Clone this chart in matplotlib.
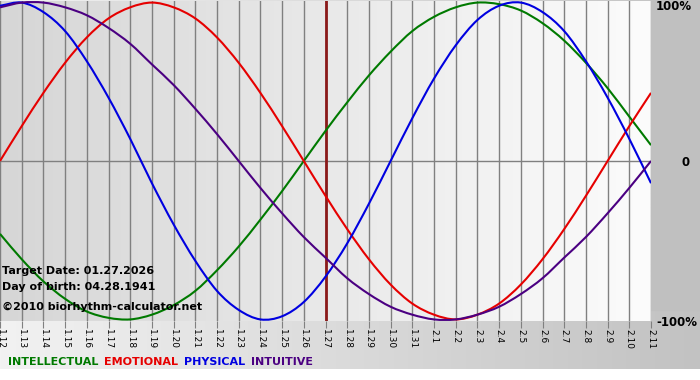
import numpy as np
import matplotlib.pyplot as plt
from matplotlib.colors import LinearSegmentedColormap
from matplotlib.path import Path
from matplotlib.patches import PathPatch

# day labels (Jan 12 .. Feb 11)
days = ['1.12', '1.13', '1.14', '1.15', '1.16', '1.17', '1.18', '1.19', '1.20', '1.21',
        '1.22', '1.23', '1.24', '1.25', '1.26', '1.27', '1.28', '1.29', '1.30', '1.31',
        '2.1', '2.2', '2.3', '2.4', '2.5', '2.6', '2.7', '2.8', '2.9', '2.10', '2.11']
target_day = '1.27'

# daily values (-1 .. 1)
physical = [0.98, 1.00, 0.94, 0.82, 0.63, 0.40, 0.14, -0.14, -0.40, -0.63, -0.82,
            -0.94, -1.00, -0.98, -0.89, -0.73, -0.52, -0.27, 0.00, 0.27, 0.52,
            0.73, 0.89, 0.98, 1.00, 0.94, 0.82, 0.63, 0.40, 0.14, -0.14]
emotional = [0.00, 0.22, 0.43, 0.62, 0.78, 0.90, 0.97, 1.00, 0.97, 0.90, 0.78,
             0.62, 0.43, 0.22, 0.00, -0.22, -0.43, -0.62, -0.78, -0.90, -0.97,
             -1.00, -0.97, -0.90, -0.78, -0.62, -0.43, -0.22, 0.00, 0.22, 0.43]
intellectual = [-0.46, -0.62, -0.76, -0.87, -0.95, -0.99, -1.00, -0.97, -0.91, -0.82, -0.69,
                -0.54, -0.37, -0.19, 0.00, 0.19, 0.37, 0.54, 0.69, 0.82, 0.91,
                0.97, 1.00, 0.99, 0.95, 0.87, 0.76, 0.62, 0.46, 0.28, 0.10]
intuitive = [0.97, 1.00, 1.00, 0.97, 0.92, 0.84, 0.74, 0.61, 0.48, 0.33, 0.17,
             0.00, -0.17, -0.33, -0.48, -0.61, -0.74, -0.84, -0.92, -0.97, -1.00,
             -1.00, -0.97, -0.92, -0.84, -0.74, -0.61, -0.48, -0.33, -0.17, 0.00]

legend_names = ['INTELLECTUAL', 'EMOTIONAL', 'PHYSICAL', 'INTUITIVE']
colors = ['#007a00', '#e60000', '#0000e0', '#4b0082']


def smooth_path(xs, ys):
    # draw the daily points as a smoothed (bezier) line, like the original chart
    p = np.column_stack([xs, ys]).astype(float)
    ext = np.vstack([2 * p[0] - p[1], p, 2 * p[-1] - p[-2]])
    verts = [p[0]]
    codes = [Path.MOVETO]
    for i in range(1, len(ext) - 2):
        c1 = ext[i] + (ext[i + 1] - ext[i - 1]) / 6
        c2 = ext[i + 1] - (ext[i + 2] - ext[i]) / 6
        verts += [c1, c2, ext[i + 1]]
        codes += [Path.CURVE4] * 3
    return Path(verts, codes)


W, H = 700, 380
fig = plt.figure(figsize=(W / 100, H / 100), dpi=100)
fig.patch.set_facecolor('white')

# background panel (gray gradient) behind everything
bg = fig.add_axes([0, 11 / H, 1, 1 - 11 / H])
bg.set_axis_off()
grad = np.linspace(0, 1, 256).reshape(1, -1)
bgcmap = LinearSegmentedColormap.from_list('bg', ['#f2f2f2', '#c2c2c2'])
bg.imshow(grad, aspect='auto', cmap=bgcmap, extent=[0, 1, 0, 1])
bg.fill_between([651 / W, 1], 59 / (H - 11), 1, color='#c0c0c0')
bg.set_xlim(0, 1)
bg.set_ylim(0, 1)

ax = fig.add_axes([0, 59 / H, 651 / W, 320 / H])
x = np.arange(len(days))
ax.set_xlim(0, len(days) - 1)
ax.set_ylim(-1.01, 1.01)

# plot background gradient
pcmap = LinearSegmentedColormap.from_list('p', ['#d6d6d6', '#fcfcfc'])
ax.imshow(grad, aspect='auto', cmap=pcmap, extent=[0, len(days) - 1, -1.01, 1.01], zorder=0)

for xi in x:
    ax.axvline(xi, color='#808080', lw=1, zorder=1)
ax.axhline(0, color='#808080', lw=1, zorder=1)
ax.axvline(days.index(target_day), color='#8b1a1a', lw=2, zorder=2)

for series, c in zip([intellectual, emotional, physical, intuitive], colors):
    ax.add_patch(PathPatch(smooth_path(x, series), facecolor='none', edgecolor=c,
                           lw=1.5, zorder=3, clip_on=True))

for s in ax.spines.values():
    s.set_visible(False)
ax.set_xticks(x)
ax.set_xticklabels(days, rotation=270, fontsize=6.5)
ax.tick_params(axis='x', length=5, color='#808080', pad=1)
ax.set_yticks([])

info = ['Target Date: 01.27.2026', 'Day of birth: 04.28.1941',
        '\u00a92010 biorhythm-calculator.net']
for txt, yp in zip(info, [271, 287, 307]):
    ax.text(2 / 651, (321 - yp) / 320, txt, transform=ax.transAxes,
            fontsize=8, fontweight='bold', va='center', zorder=4)

# right labels
fig.text(656 / W, 373 / H, '100%', fontsize=8.5, fontweight='bold', va='center')
fig.text(686 / W, 218 / H, '0', fontsize=8.5, fontweight='bold', ha='center', va='center')
fig.text(656 / W, 58 / H, '-100%', fontsize=8.5, fontweight='bold', va='center')

# colored legend words
lx = 8
for name, c in zip(legend_names, colors):
    t = fig.text(lx / W, 18 / H, name, color=c, fontsize=8, fontweight='bold', va='center')
    fig.canvas.draw()
    bb = t.get_window_extent()
    lx += bb.width + 6

fig.savefig('out.png', dpi=100)
